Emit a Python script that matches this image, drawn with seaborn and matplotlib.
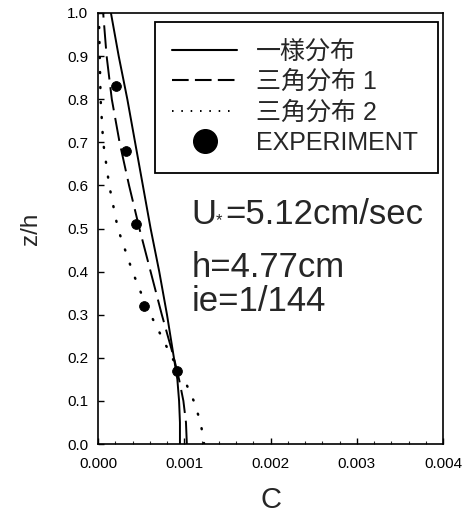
import numpy as np
import pandas as pd
import seaborn as sns
import matplotlib
matplotlib.use("Agg")
import matplotlib.pyplot as plt
from matplotlib.lines import Line2D
from matplotlib.ticker import MultipleLocator

# ---- data ----
z_levels = [0.0, 0.05, 0.1, 0.15, 0.2, 0.3, 0.4, 0.5, 0.6, 0.7, 0.8, 0.9, 1.0]
c_uniform = [0.00095, 0.00095, 0.00094, 0.00092, 0.00088, 0.00080, 0.00071,
             0.00061, 0.00052, 0.00043, 0.00034, 0.00024, 0.00015]
c_tri1 = [0.00103, 0.00102, 0.00099, 0.00094, 0.00088, 0.00074, 0.00061,
          0.00048, 0.00036, 0.00025, 0.00016, 0.00010, 0.00006]
z_tri2 = [0.0, 0.05, 0.1, 0.15, 0.2, 0.3, 0.35, 0.4, 0.5, 0.6, 0.7, 0.8, 0.9, 1.0]
c_tri2 = [0.00123, 0.00119, 0.00111, 0.00100, 0.00086, 0.00061, 0.00050,
          0.00040, 0.00023, 0.00013, 0.00006, 0.00003, 0.00002, 0.00001]
exp_c = [0.00021, 0.00032, 0.00044, 0.00053, 0.00092]
exp_z = [0.83, 0.68, 0.51, 0.32, 0.17]

labels = ["一様分布", "三角分布 1", "三角分布 2", "EXPERIMENT"]
x_ticks = [0.000, 0.001, 0.002, 0.003, 0.004]
x_ticklabels = ["0.000", "0.001", "0.002", "0.003", "0.004"]
y_ticks = [round(0.1 * i, 1) for i in range(11)]
ann_u_main, ann_u_sub, ann_u_rest = "U", "*", "=5.12cm/sec"
ann_h = "h=4.77cm"
ann_ie = "ie=1/144"

sns.set_theme(style="ticks")
plt.rcParams["font.family"] = ["Liberation Sans", "Noto Sans CJK JP", "DejaVu Sans"]

fig = plt.figure(figsize=(4.65, 5.26), dpi=100)
ax = fig.add_axes([98 / 465, 1 - 444 / 526, 345 / 465, 431 / 526])

df_u = pd.DataFrame({"C": c_uniform, "z": z_levels})
df_1 = pd.DataFrame({"C": c_tri1, "z": z_levels})
df_2 = pd.DataFrame({"C": c_tri2, "z": z_tri2})
df_e = pd.DataFrame({"C": exp_c, "z": exp_z})

sns.lineplot(data=df_u, x="C", y="z", sort=False, estimator=None, ax=ax,
             color="black", linewidth=1.4)
sns.lineplot(data=df_1, x="C", y="z", sort=False, estimator=None, ax=ax,
             color="black", linewidth=1.4)
ax.lines[-1].set_dashes([12, 4])
sns.lineplot(data=df_2, x="C", y="z", sort=False, estimator=None, ax=ax,
             color="black", linewidth=1.8)
ax.lines[-1].set_dashes([0.4, 5.6])
ax.lines[-1].set_dash_capstyle("round")
sns.scatterplot(data=df_e, x="C", y="z", ax=ax, color="black", s=50,
                edgecolor="black", zorder=5)

ax.set_xlim(0, 0.004)
ax.set_ylim(0, 1.0)
ax.set_xticks(x_ticks)
ax.set_xticklabels(x_ticklabels)
ax.set_yticks(y_ticks)
ax.set_yticklabels([f"{v:.1f}" for v in y_ticks])
ax.xaxis.set_minor_locator(MultipleLocator(0.0002))
ax.tick_params(axis="both", which="major", direction="in", length=4,
               width=1, labelsize=11, colors="black")
ax.tick_params(axis="x", which="major", pad=9)
ax.tick_params(axis="y", which="major", pad=7)
ax.tick_params(axis="x", which="minor", direction="in", length=2, width=0.8)
for sp in ax.spines.values():
    sp.set_color("black")
    sp.set_linewidth(1.2)

ax.set_xlabel("C", fontsize=21, labelpad=11)
ax.set_ylabel("z/h", fontsize=17.5, labelpad=18)

handles = [
    Line2D([], [], color="black", lw=1.5),
    Line2D([], [], color="black", lw=1.5, dashes=[8, 3]),
    Line2D([], [], color="black", lw=1.4, dashes=[0.8, 4]),
    Line2D([], [], color="black", lw=0, marker="o", markersize=17),
]
leg = ax.legend(handles, labels, loc="upper left",
                bbox_to_anchor=(0.165, 0.5, 0.82, 0.479), mode="expand",
                fontsize=18, handlelength=2.6, handletextpad=0.75,
                labelspacing=0.26, borderpad=0.7, fancybox=False,
                framealpha=1, edgecolor="black", borderaxespad=0)
leg.get_frame().set_linewidth(1.3)

fs_ann = 25
t_u = ax.text(0.00108, 0.532, ann_u_main, fontsize=fs_ann, va="center", ha="left")
ax.annotate(ann_u_sub, xy=(1, 0), xycoords=t_u, xytext=(0, 2),
            textcoords="offset points", fontsize=12, ha="left", va="bottom")
ax.annotate(ann_u_rest, xy=(1, 0), xycoords=t_u, xytext=(6.5, 0),
            textcoords="offset points", fontsize=fs_ann, ha="left", va="bottom")
ax.text(0.00108, 0.410, ann_h, fontsize=fs_ann, va="center", ha="left")
ax.text(0.00108, 0.330, ann_ie, fontsize=fs_ann, va="center", ha="left")

fig.savefig("out.png", dpi=100)
